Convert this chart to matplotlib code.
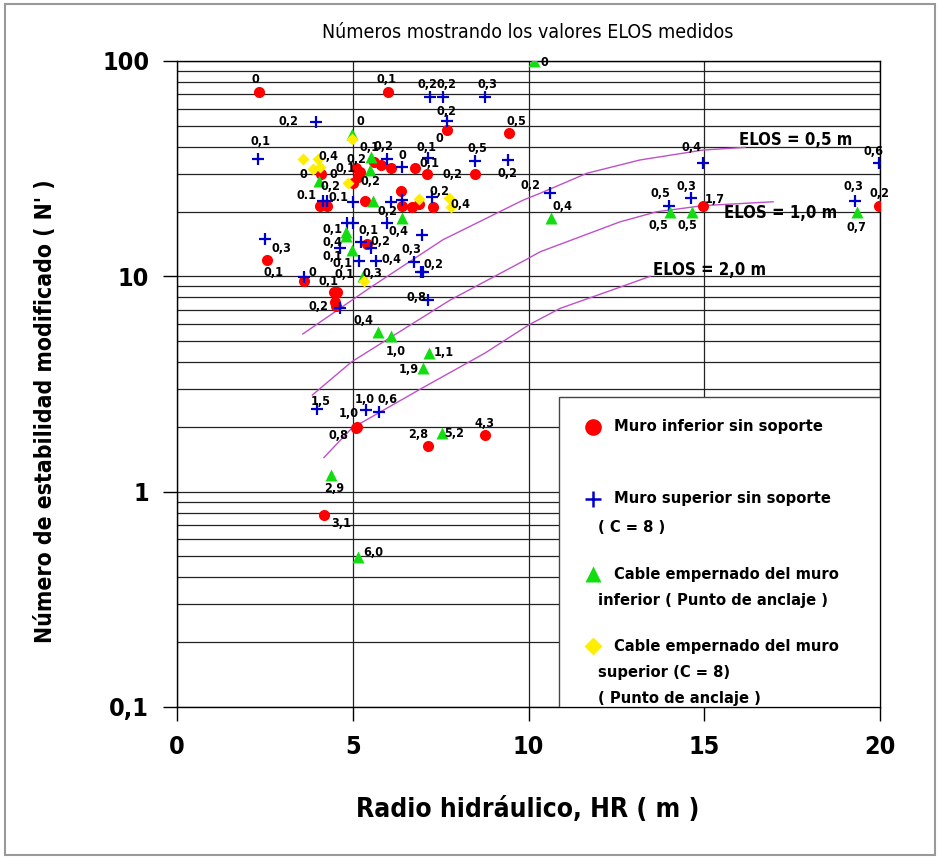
import numpy as np
import matplotlib.pyplot as plt
from matplotlib.patches import Rectangle
from matplotlib.ticker import LogLocator, NullFormatter

plt.rcParams['font.family'] = ['Liberation Sans Narrow', 'DejaVu Sans']
plt.rcParams['font.stretch'] = 'condensed'

# --- datos: HR (m), N', valor ELOS medido, desplazamiento de la etiqueta (px)
rojo_x = [2.34, 5.99, 7.67, 9.45, 4.09, 5.10, 5.20, 5.15, 5.00, 5.60, 5.80, 6.09, 6.77,
          7.10, 8.48, 4.07, 4.26, 5.34, 6.38, 6.41, 6.68, 6.88, 7.29, 5.41, 2.55, 3.61,
          4.47, 4.55, 4.50, 4.52, 5.13, 5.08, 7.15, 8.76, 4.18, 14.97, 19.98]
rojo_y = [71.7, 71.7, 47.9, 46.1, 29.8, 31.8, 30.5, 29.0, 27.0, 33.8, 32.9, 31.8, 31.8,
          29.8, 29.8, 21.3, 21.3, 22.3, 25.0, 21.3, 21.0, 21.6, 21.0, 14.1, 11.9, 9.5,
          8.5, 8.5, 7.6, 7.3, 2.0, 1.97, 1.63, 1.83, 0.778, 21.3, 21.3]
rojo_lab = ['0', '0,1', '0', '0,5', '0', '0,2', '0,1', '0', '', '0,2', '', '', '',
            '0,1', '0,2', '', '', '', '', '', '', '', '', '0,2', '0,1', '0',
            '0,1', '0,1', '', '0,2', '1,0', '0,8', '2,8', '4,3', '3,1', '1,7', '0,2']
rojo_off = [(-4, 13), (-1, 13), (-7, -9), (7, 12), (-17, 0), (0, 9), (-14, 4), (-25, 2),
            (0, 0), (10, 16), (0, 0), (0, 0), (0, 0), (3, 11), (-23, 0), (0, 0), (0, 0),
            (0, 0), (0, 0), (0, 0), (0, 0), (0, 0), (0, 0), (13, 3), (7, -12), (8, 9),
            (-6, 10), (8, 17), (0, 0), (-17, -1), (-9, 13), (-17, -7), (-10, 11), (0, 12),
            (17, -8), (11, 6), (0, 12)]

azul_x = [3.95, 2.31, 7.20, 7.56, 8.76, 7.67, 5.98, 6.41, 7.15, 8.48, 9.41, 4.14, 4.26,
          5.00, 6.09, 6.41, 7.25, 10.61, 4.83, 5.00, 5.98, 6.96, 2.50, 3.61, 4.64, 5.23,
          5.52, 5.19, 5.66, 6.75, 6.93, 6.99, 7.15, 4.64, 3.99, 5.37, 5.76, 14.97, 19.98,
          14.00, 14.61, 19.29]
azul_y = [52.2, 35.1, 68.2, 68.2, 68.2, 52.6, 35.1, 32.3, 35.3, 34.4, 34.7, 22.4, 22.4,
          22.1, 22.1, 22.6, 23.4, 24.3, 17.6, 17.6, 17.6, 15.6, 14.9, 9.9, 13.6, 14.4,
          13.6, 11.8, 11.8, 11.7, 10.5, 10.5, 7.8, 7.1, 2.41, 2.40, 2.35, 33.7, 33.7,
          21.3, 23.0, 22.4]
azul_lab = ['0,2', '0,1', '0,2', '0,2', '0,3', '0,2', '', '0', '0,1', '0,5', '0,2', '0.1', '',
            '0.1', '', '', '0,2', '0,2', '0,1', '', '0,2', '', '0,3', '', '0,4', '0,1',
            '', '0,1', '0,4', '0,3', '', '0,2', '0,8', '', '1,5', '1,0', '0,6', '0,4', '0,6',
            '0,5', '0,3', '0,3']
azul_off = [(-27, 0), (2, 17), (-3, 12), (4, 12), (3, 12), (0, 10), (0, 0), (0, 11),
            (-2, 11), (2, 12), (0, -14), (-16, 5), (0, 0), (-14, 5), (0, 0), (0, 0),
            (8, 5), (-19, 8), (-14, -6), (0, 0), (0, 12), (0, 0), (17, -9), (0, 0),
            (-8, 5), (8, 12), (0, 0), (-17, -3), (16, 1), (-3, 12), (0, 0), (11, 7),
            (-12, 2), (0, 0), (3, 8), (-1, 10), (8, 12), (-12, 15), (-6, 11), (-9, 12),
            (-4, 12), (-2, 14)]

verde_x = [10.16, 4.99, 4.04, 5.51, 5.49, 5.59, 6.39, 10.64, 4.80, 4.80, 4.99, 5.28,
           5.71, 6.09, 7.18, 6.99, 7.55, 4.38, 5.14, 14.03, 14.64, 19.34]
verde_y = [100.0, 45.8, 27.8, 35.7, 31.2, 22.3, 18.6, 18.6, 16.1, 15.4, 13.3, 10.0,
           5.53, 5.29, 4.41, 3.77, 1.88, 1.19, 0.499, 19.95, 19.95, 19.95]
verde_lab = ['0', '0', '0,2', '0,1', '0,2', '', '0,4', '0,4', '', '', '0,1', '0,3',
             '0,4', '1,0', '1,1', '1,9', '5,2', '2,9', '6,0', '0,5', '0,5', '0,7']
verde_off = [(10, -2), (8, 13), (11, -6), (-1, 10), (1, -12), (0, 0), (-3, -13), (12, 12),
             (0, 0), (0, 0), (-20, -7), (10, 3), (-14, 11), (5, -16), (14, 0), (-14, -2),
             (12, -1), (3, -13), (16, 4), (-12, -14), (-4, -14), (0, -16)]

amarillo_x = [4.99, 3.59, 4.00, 3.88, 4.07, 4.86, 6.88, 7.75, 7.79, 5.32]
amarillo_y = [43.6, 35.1, 35.1, 31.4, 32.3, 27.2, 22.8, 23.0, 21.0, 9.5]
amarillo_lab = ['', '', '0,4', '', '', '', '', '', '0,4', '']
amarillo_off = [(0, 0), (0, 0), (11, 2), (0, 0), (0, 0), (0, 0), (0, 0), (0, 0), (10, 2), (0, 0)]

# curvas ELOS
elos05_x = [3.58, 5.49, 7.57, 9.85, 10.33, 11.66, 13.17, 14.97, 16.16]
elos05_y = [5.4, 8.85, 14.8, 22.6, 24.3, 30.1, 34.7, 38.6, 39.7]
elos10_x = [3.85, 4.97, 7.77, 9.99, 10.33, 12.6, 13.65, 14.97, 16.96]
elos10_y = [2.81, 4.01, 7.76, 12.1, 13.0, 17.9, 19.95, 21.3, 22.2]
elos20_x = [4.18, 4.97, 7.01, 8.76, 10.0, 10.9, 12.6, 13.46]
elos20_y = [1.44, 1.97, 3.05, 4.4, 5.94, 7.1, 8.9, 10.0]

W, H = 940, 859
fig = plt.figure(figsize=(W / 100, H / 100), dpi=100)
ax = fig.add_axes([177 / W, 1 - 707 / H, 703 / W, 646 / H])

ax.set_yscale('log')
ax.set_xlim(0, 20)
ax.set_ylim(0.1, 100)

rosa = '#c050c8'
ax.plot(elos05_x, elos05_y, color=rosa, lw=1.0, zorder=2)
ax.plot(elos10_x, elos10_y, color=rosa, lw=1.0, zorder=2)
ax.plot(elos20_x, elos20_y, color=rosa, lw=1.0, zorder=2)

ax.plot(rojo_x, rojo_y, 'o', color='#ff0000', ms=8, mec='none', zorder=3)
ax.plot(azul_x, azul_y, '+', color='#0000cc', ms=9, mew=1.6, zorder=3)
ax.plot(verde_x, verde_y, '^', color='#11dd11', ms=8, mec='none', zorder=3)
ax.plot(amarillo_x, amarillo_y, 'D', color='#ffee00', ms=6.5, mec='none', zorder=3)


def etiquetas(xs, ys, labs, offs):
    for x, y, t, (dx, dy) in zip(xs, ys, labs, offs):
        if t:
            ax.annotate(t, (x, y), xytext=(dx, dy), textcoords='offset pixels',
                        ha='center', va='center', fontsize=9, fontweight='bold', zorder=4)


etiquetas(rojo_x, rojo_y, rojo_lab, rojo_off)
etiquetas(azul_x, azul_y, azul_lab, azul_off)
etiquetas(verde_x, verde_y, verde_lab, verde_off)
etiquetas(amarillo_x, amarillo_y, amarillo_lab, amarillo_off)

ax.text(16.0, 43.0, 'ELOS = 0,5 m', fontsize=12, fontweight='bold', ha='left', va='center')
ax.text(15.55, 19.6, 'ELOS = 1,0 m', fontsize=12, fontweight='bold', ha='left', va='center')
ax.text(13.55, 10.7, 'ELOS = 2,0 m', fontsize=12, fontweight='bold', ha='left', va='center')

# rejilla
ax.yaxis.set_minor_locator(LogLocator(base=10, subs=np.arange(2, 10)))
ax.yaxis.set_minor_formatter(NullFormatter())
ax.grid(True, which='both', axis='y', color='#222222', lw=0.9, zorder=1)
ax.grid(True, which='major', axis='x', color='#222222', lw=0.9, zorder=1)
ax.set_axisbelow(True)

ax.set_xticks([0, 5, 10, 15, 20])
ax.set_xticklabels(['0', '5', '10', '15', '20'])
ax.set_yticks([0.1, 1, 10, 100])
ax.set_yticklabels(['0,1', '1', '10', '100'])
ax.tick_params(which='major', direction='out', length=10, width=1, labelsize=18, pad=10)
ax.tick_params(which='minor', length=0)
for lb in ax.get_xticklabels() + ax.get_yticklabels():
    lb.set_fontweight('bold')
for s in ax.spines.values():
    s.set_linewidth(1)

ax.set_xlabel('Radio hidráulico, HR ( m )', fontsize=19, fontweight='bold')
ax.set_ylabel("Número de estabilidad modificado ( N' )", fontsize=16.5, fontweight='bold')
ax.xaxis.set_label_coords((528 - 177) / 703, (707 - 797) / 646)
ax.yaxis.set_label_coords((57 - 177) / 703, (707 - 411) / 646)

fig.text(528 / W, 1 - 32 / H, 'Números mostrando los valores ELOS medidos',
         fontsize=14, ha='center', va='center')

# leyenda dibujada a mano
def pa(px, py):
    return ((px - 177) / 703, (707 - py) / 646)


x0, y0 = pa(559, 707)
x1, y1 = pa(880, 397)
ax.add_patch(Rectangle((x0, y0), x1 - x0, y1 - y0, transform=ax.transAxes,
                       facecolor='white', edgecolor='#444444', lw=1, zorder=5))
simbolos = [('o', '#ff0000', 427, 12, {}), ('+', '#0000cc', 499, 12, {'mew': 1.8}),
            ('^', '#11dd11', 574, 12, {}), ('D', '#ffee00', 646, 9, {})]
for m, c, py, ms, kw in simbolos:
    mx, my = pa(593, py)
    ax.plot([mx], [my], m, color=c, ms=ms, mec=c if m == '+' else 'none',
            transform=ax.transAxes, clip_on=False, zorder=6, **kw)

leyenda = [('Muro inferior sin soporte', 614, 427),
           ('Muro superior sin soporte', 614, 499),
           ('( C = 8 )', 598, 527),
           ('Cable empernado del muro', 614, 574),
           ('inferior ( Punto de anclaje )', 598, 601),
           ('Cable empernado del muro', 614, 646),
           ('superior (C = 8)', 598, 673),
           ('( Punto de anclaje )', 598, 698)]
for t, px, py in leyenda:
    tx, ty = pa(px, py)
    ax.text(tx, ty, t, transform=ax.transAxes, fontsize=11.8, fontweight='bold',
            ha='left', va='center', zorder=6)

fig.add_artist(Rectangle((5 / W, 4 / H), 930 / W, 851 / H, transform=fig.transFigure,
                         fill=False, edgecolor='#999999', lw=1.5))

fig.savefig('out.png', dpi=100)
